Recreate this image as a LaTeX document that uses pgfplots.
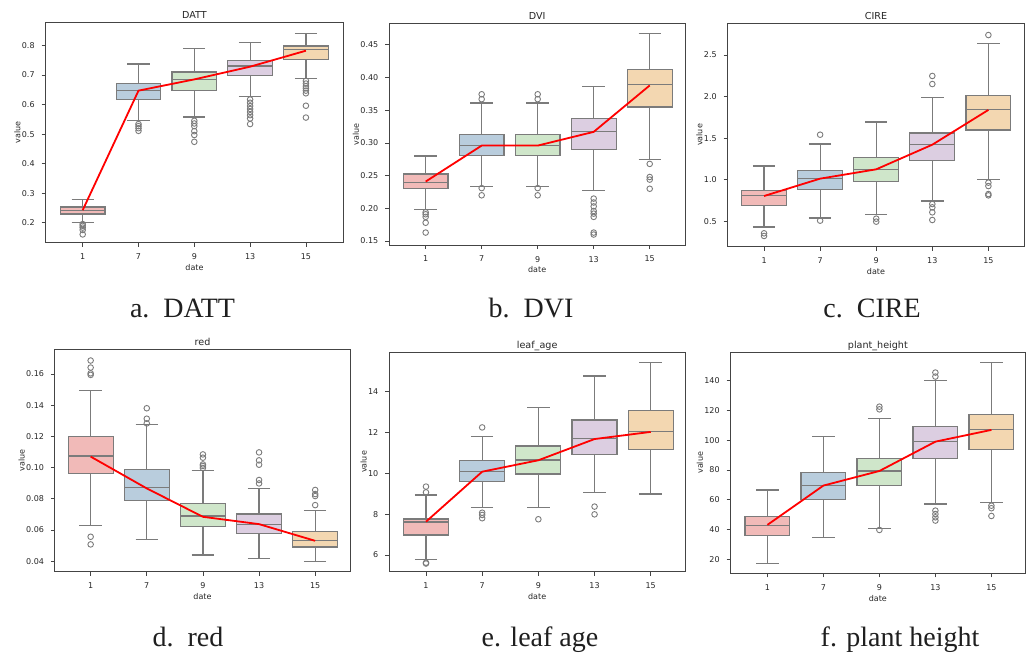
\documentclass[border=0pt]{standalone}
\usepackage{fontspec}
\setmainfont{DejaVu Sans}
\newfontfamily\tms{Liberation Serif}
\usepackage{pgfplots}
\pgfplotsset{compat=1.18}
\usepgfplotslibrary{statistics}
\definecolor{cA}{HTML}{F1BAB8}
\definecolor{cB}{HTML}{B9CDDD}
\definecolor{cC}{HTML}{CFE6CA}
\definecolor{cD}{HTML}{DCCEE1}
\definecolor{cE}{HTML}{F3D7B1}
\definecolor{bg}{HTML}{7B7B7B}
\definecolor{sp}{HTML}{444444}
\pgfplotsset{
 every axis title shift=0pt,
 panel/.style={scale only axis, anchor=south west,
   axis line style={sp, line width=0.5pt},
   tick pos=left, tick align=outside, major tick length=2pt,
   tick style={sp, line width=0.4pt},
   xtick={0,1,2,3,4}, xticklabels={1,7,9,13,15},
   font=\fontsize{4}{4.8}\selectfont,
   /pgf/number format/assume math mode=true,
   ticklabel style={text=black!85},
   title style={font=\fontsize{4.8}{5.6}\selectfont, text=black!85, anchor=base, yshift=1.8pt},
   label style={text=black!85},
   xlabel=date, ylabel=value,
   xlabel shift=-4.5pt, ylabel shift=-6.2pt},
 bxs/.style={draw=bg, line width=0.6pt, solid, mark=o, mark size=1.4pt,
   mark options={draw=bg, fill=none, line width=0.45pt, solid},
   boxplot/draw direction=y, boxplot/box extend=0.8, boxplot/whisker extend=0.4},
 rl/.style={red, line width=0.9pt, mark=none}
}
\newcommand{\bx}[8]{\addplot[bxs, fill=#2, boxplot prepared={draw position=#1, lower whisker=#3, lower quartile=#4, median=#5, upper quartile=#6, upper whisker=#7}] coordinates {#8};}
\begin{document}
\begin{tikzpicture}
\useasboundingbox (0,0) rectangle (517.5pt,327.5pt);
% a. DATT
\begin{axis}[panel, at={(22.85pt,206.15pt)}, width=148.8pt, height=110.2pt,
  xmin=-0.663, xmax=4.67, ymin=0.133, ymax=0.878,
  ytick={0.2,0.3,0.4,0.5,0.6,0.7,0.8},
  yticklabel style={/pgf/number format/.cd, fixed, fixed zerofill, precision=1},
  title={DATT}]
\bx{0}{cA}{0.200}{0.230}{0.241}{0.254}{0.279}{(0,0.196)(0,0.190)(0,0.184)(0,0.176)(0,0.161)}
\bx{1}{cB}{0.545}{0.618}{0.648}{0.670}{0.737}{(1,0.534)(1,0.527)(1,0.520)(1,0.511)}
\bx{2}{cC}{0.558}{0.648}{0.686}{0.710}{0.790}{(2,0.545)(2,0.536)(2,0.527)(2,0.510)(2,0.497)(2,0.474)}
\bx{3}{cD}{0.626}{0.699}{0.730}{0.750}{0.809}{(3,0.617)(3,0.606)(3,0.595)(3,0.585)(3,0.575)(3,0.564)(3,0.553)(3,0.534)}
\bx{4}{cE}{0.687}{0.753}{0.785}{0.798}{0.841}{(4,0.680)(4,0.671)(4,0.662)(4,0.655)(4,0.647)(4,0.638)(4,0.596)(4,0.556)}
\addplot[rl] coordinates {(0,0.243)(1,0.647)(2,0.685)(3,0.728)(4,0.782)};
\end{axis}
% b. DVI
\begin{axis}[panel, at={(194.65pt,205pt)}, width=147.85pt, height=110.85pt,
  xmin=-0.649, xmax=4.63, ymin=0.144, ymax=0.483,
  ytick={0.15,0.20,0.25,0.30,0.35,0.40,0.45},
  yticklabel style={/pgf/number format/.cd, fixed, fixed zerofill, precision=2},
  title={DVI}]
\bx{0}{cA}{0.198}{0.2306}{0.240}{0.2526}{0.280}{(0,0.194)(0,0.191)(0,0.187)(0,0.178)(0,0.163)}
\bx{1}{cB}{0.234}{0.281}{0.296}{0.313}{0.361}{(1,0.3745)(1,0.367)(1,0.231)(1,0.220)}
\bx{2}{cC}{0.234}{0.281}{0.296}{0.313}{0.361}{(2,0.3745)(2,0.367)(2,0.231)(2,0.220)}
\bx{3}{cD}{0.227}{0.290}{0.317}{0.338}{0.386}{(3,0.215)(3,0.209)(3,0.203)(3,0.196)(3,0.192)(3,0.187)(3,0.163)(3,0.160)}
\bx{4}{cE}{0.275}{0.355}{0.389}{0.412}{0.468}{(4,0.268)(4,0.248)(4,0.244)(4,0.230)}
\addplot[rl] coordinates {(0,0.241)(1,0.296)(2,0.296)(3,0.317)(4,0.388)};
\end{axis}
% c. CIRE
\begin{axis}[panel, at={(363.85pt,204.15pt)}, width=148.3pt, height=111.7pt,
  xmin=-0.648, xmax=4.64, ymin=0.196, ymax=2.881,
  ytick={0.5,1.0,1.5,2.0,2.5},
  yticklabel style={/pgf/number format/.cd, fixed, fixed zerofill, precision=1},
  title={CIRE}]
\bx{0}{cA}{0.433}{0.689}{0.809}{0.873}{1.166}{(0,0.357)(0,0.325)}
\bx{1}{cB}{0.541}{0.881}{1.014}{1.110}{1.430}{(1,1.542)(1,0.509)}
\bx{2}{cC}{0.585}{0.978}{1.126}{1.270}{1.695}{(2,0.533)(2,0.497)}
\bx{3}{cD}{0.745}{1.234}{1.422}{1.563}{1.991}{(3,2.248)(3,2.151)(3,0.709)(3,0.669)(3,0.609)(3,0.517)}
\bx{4}{cE}{1.006}{1.599}{1.843}{2.011}{2.640}{(4,2.740)(4,0.966)(4,0.925)(4,0.829)(4,0.813)}
\addplot[rl] coordinates {(0,0.805)(1,1.014)(2,1.126)(3,1.422)(4,1.84)};
\end{axis}
% d. red
\begin{axis}[panel, at={(27.5pt,41.65pt)}, width=147.5pt, height=111.2pt,
  xmin=-0.635, xmax=4.62, ymin=0.0332, ymax=0.1758,
  ytick={0.04,0.06,0.08,0.10,0.12,0.14,0.16},
  yticklabel style={/pgf/number format/.cd, fixed, fixed zerofill, precision=2},
  title={red}]
\bx{0}{cA}{0.0627}{0.0963}{0.1074}{0.1198}{0.1493}{(0,0.1686)(0,0.1641)(0,0.1604)(0,0.1594)(0,0.0556)(0,0.0507)}
\bx{1}{cB}{0.0541}{0.0790}{0.0873}{0.0986}{0.1277}{(1,0.138)(1,0.1313)(1,0.1283)}
\bx{2}{cC}{0.0439}{0.0620}{0.0689}{0.0768}{0.098}{(2,0.1084)(2,0.1063)(2,0.102)(2,0.101)(2,0.0997)}
\bx{3}{cD}{0.0417}{0.0575}{0.0637}{0.0702}{0.0864}{(3,0.1097)(3,0.1046)(3,0.1018)(3,0.0920)(3,0.0898)}
\bx{4}{cE}{0.0396}{0.0490}{0.0533}{0.0588}{0.0723}{(4,0.0856)(4,0.0830)(4,0.0817)(4,0.0759)}
\addplot[rl] coordinates {(0,0.107)(1,0.0866)(2,0.0684)(3,0.0637)(4,0.053)};
\end{axis}
% e. leaf age
\begin{axis}[panel, at={(194.65pt,41.65pt)}, width=147.85pt, height=109.7pt,
  xmin=-0.653, xmax=4.61, ymin=5.18, ymax=15.93,
  ytick={6,8,10,12,14},
  title={leaf\_age}]
\bx{0}{cA}{5.76}{6.98}{7.62}{7.76}{8.94}{(0,9.35)(0,9.07)(0,5.62)(0,5.58)}
\bx{1}{cB}{8.33}{9.59}{10.08}{10.62}{11.80}{(1,12.25)(1,8.07)(1,7.96)(1,7.80)}
\bx{2}{cC}{8.33}{9.97}{10.65}{11.34}{13.22}{(2,7.75)}
\bx{3}{cD}{9.07}{10.93}{11.70}{12.61}{14.77}{(3,8.37)(3,7.99)}
\bx{4}{cE}{8.99}{11.18}{12.03}{13.07}{15.44}{}
\addplot[rl] coordinates {(0,7.63)(1,10.08)(2,10.64)(3,11.68)(4,12.03)};
\end{axis}
% f. plant height
\begin{axis}[panel, at={(365.35pt,40.85pt)}, width=147.15pt, height=110.5pt,
  xmin=-0.655, xmax=4.60, ymin=10.6, ymax=159.0,
  ytick={20,40,60,80,100,120,140},
  title={plant\_height}]
\bx{0}{cA}{17.3}{35.9}{42.8}{48.7}{66.6}{}
\bx{1}{cB}{34.8}{59.9}{69.5}{78.4}{102.2}{}
\bx{2}{cC}{40.8}{69.3}{79.3}{87.8}{114.7}{(2,122.5)(2,120.7)(2,39.7)}
\bx{3}{cD}{57.2}{87.8}{99.3}{109.1}{139.8}{(3,145.4)(3,142.7)(3,52.7)(3,50.4)(3,48.2)(3,46.0)}
\bx{4}{cE}{58.1}{93.9}{106.9}{117.4}{152.1}{(4,56.0)(4,54.3)(4,49.1)}
\addplot[rl] coordinates {(0,43.1)(1,69.5)(2,79.3)(3,99.0)(4,106.9)};
\end{axis}
\begin{scope}[every node/.style={anchor=base, font=\tms\fontsize{14}{16}\selectfont, text=black!88, inner sep=0pt}]
\node at (91.25pt,169pt) {a.\ \ DATT};
\node at (265.5pt,169pt) {b.\ \ DVI};
\node at (436pt,169pt) {c.\ \ CIRE};
\node at (94pt,4.5pt) {d.\ \ red};
\node at (270pt,4.5pt) {e. leaf age};
\node at (450pt,4.5pt) {f. plant height};
\end{scope}
\end{tikzpicture}
\end{document}
